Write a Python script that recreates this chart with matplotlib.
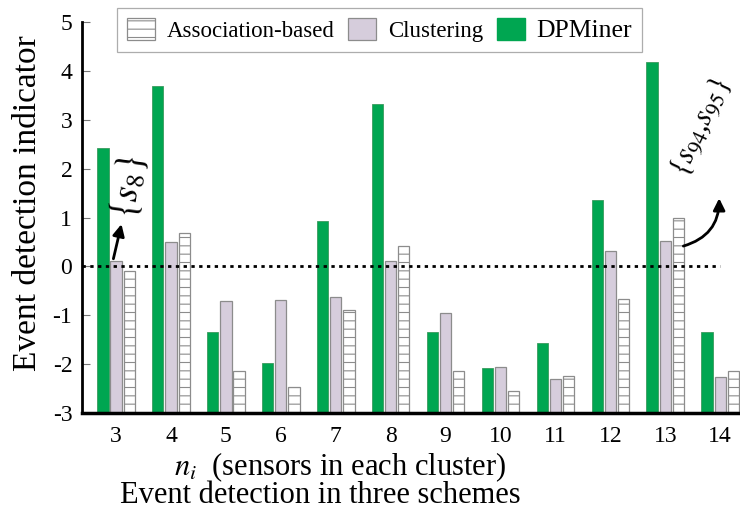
import matplotlib
matplotlib.use("Agg")
import matplotlib.pyplot as plt
import matplotlib.patches as mpatches
import numpy as np

plt.rcParams['font.family'] = ['Liberation Serif', 'DejaVu Serif']
plt.rcParams['mathtext.fontset'] = 'stix'
plt.rcParams['axes.unicode_minus'] = False
plt.rcParams['hatch.linewidth'] = 0.8

# data
clusters = [3, 4, 5, 6, 7, 8, 9, 10, 11, 12, 13, 14]
dpminer = [2.42, 3.69, -1.35, -1.97, 0.93, 3.32, -1.35, -2.07, -1.56, 1.35, 4.18, -1.35]
clustering = [0.10, 0.49, -0.70, -0.68, -0.63, 0.10, -0.95, -2.05, -2.31, 0.31, 0.51, -2.27]
association = [-0.10, 0.68, -2.15, -2.46, -0.90, 0.41, -2.15, -2.54, -2.25, -0.66, 0.98, -2.15]
series_names = ['Association-based', 'Clustering', 'DPMiner']

green = '#00a651'
lilac = '#d6cddc'
edge = '#8c8c8c'

fig = plt.figure(figsize=(7.4, 5.09), dpi=100)
ax = fig.add_axes([82/740, 1-413/509, 1-82/740, (413-22)/509])

x = np.array(clusters, dtype=float)
w = 0.205
base = -3
ax.bar(x - 0.24, np.array(dpminer) - base, w, bottom=base, color=green, edgecolor='#3a9a5e', linewidth=0.6, zorder=2)
ax.bar(x, np.array(clustering) - base, w, bottom=base, color=lilac, edgecolor=edge, linewidth=0.9, zorder=2)
ax.bar(x + 0.24, np.array(association) - base, w, bottom=base, color='white', edgecolor=edge,
       hatch='--', linewidth=0.9, zorder=2)

ax.hlines(0, 2.38, 14.0, colors='black', linestyles=(0, (1.2, 1.6)), linewidth=2, zorder=3)

ax.set_xlim(2.38, 14.36)
ax.set_ylim(-3, 5)
ax.set_xticks(clusters)
ax.set_yticks(range(-3, 6))
ax.tick_params(axis='x', length=0, labelsize=17, pad=9)
ax.tick_params(axis='y', direction='in', length=6, width=0.8, color='#777777', labelsize=17, pad=7)
for s in ['top', 'right']:
    ax.spines[s].set_visible(False)
ax.spines['left'].set_linewidth(2)
ax.spines['bottom'].set_linewidth(2.5)

fig.text(28/740, 1-203/509, 'Event detection indicator', rotation=90, ha='center', va='center', fontsize=24)
fig.text(340/740, 1-475/509, r'$n_i$  (sensors in each cluster)', ha='center', va='baseline', fontsize=22)
fig.text(320/740, 1-503/509, 'Event detection in three schemes', ha='center', va='baseline', fontsize=22)

# annotations
ax.annotate('', xy=(3.11, 0.92), xytext=(2.94, 0.1),
            arrowprops=dict(arrowstyle='-|>,head_width=0.35,head_length=0.7', color='black', lw=2))
ax.text(3.22, 1.62, r'$\{s_8\}$', rotation=82, ha='center', va='center', fontsize=27)
ax.annotate('', xy=(13.98, 1.45), xytext=(13.28, 0.4),
            arrowprops=dict(arrowstyle='-|>,head_width=0.35,head_length=0.7', color='black', lw=2,
                            connectionstyle='arc3,rad=0.4'))
ax.text(13.64, 2.85, r'$\{s_{94}$,$s_{95}\}$', rotation=65, ha='center', va='center', fontsize=22)

handles = [mpatches.Patch(facecolor='white', edgecolor=edge, hatch='--', linewidth=0.9),
           mpatches.Patch(facecolor=lilac, edgecolor=edge, linewidth=0.9),
           mpatches.Patch(facecolor=green, edgecolor=green)]
leg = fig.legend(handles, series_names, loc='upper left', bbox_to_anchor=(117/740, 1-8/509),
                 ncol=3, fontsize=16.5, frameon=True, fancybox=False, edgecolor='#999999',
                 handlelength=1.22, handleheight=1.05, columnspacing=0.6, handletextpad=0.5,
                 borderpad=0.45, borderaxespad=0)
leg.get_frame().set_linewidth(0.9)
leg.get_texts()[2].set_fontsize(18.5)

fig.savefig('out.png', dpi=100)
